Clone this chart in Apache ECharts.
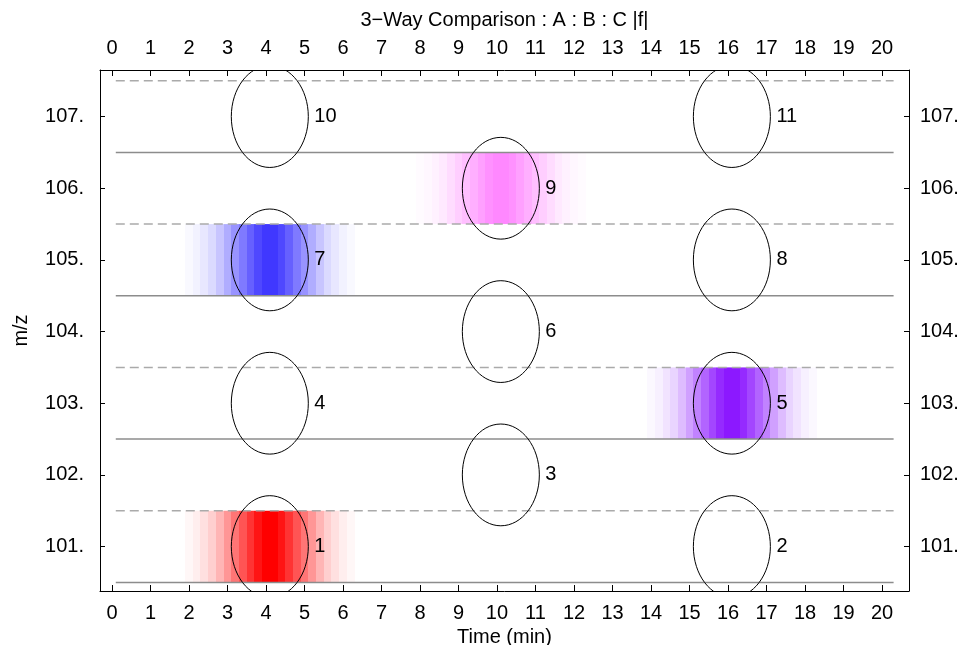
<!DOCTYPE html>
<html>
<head>
<meta charset="utf-8">
<script src="https://cdn.jsdelivr.net/npm/echarts@6/dist/echarts.min.js"></script>
<style>html,body{margin:0;padding:0;background:#fff}#c{width:966px;height:645px}</style>
</head>
<body>
<div id="c"></div>
<script>
// ---------- data ----------
const titleText = '3\u2212Way Comparison : A : B : C |f|';
const xName = 'Time (min)';
const yName = 'm/z';
const timeTicks = [0,1,2,3,4,5,6,7,8,9,10,11,12,13,14,15,16,17,18,19,20];
const mzTicks = [101,102,103,104,105,106,107];
const timeRange = [-0.31, 20.7];
const mzRange = [100.38, 107.65];

const compoundIds   = [1, 2, 3, 4, 5, 6, 7, 8, 9, 10, 11];
const compoundTimes = [4.1, 16.1, 10.1, 4.1, 16.1, 10.1, 4.1, 16.1, 10.1, 4.1, 16.1];
const compoundMz    = [101, 101, 102, 103, 103, 104, 105, 105, 106, 107, 107];
const ellipseHalfTime = 1.0;
const ellipseHalfMz = 0.71;

const solidLineMz  = [100.5, 102.5, 104.5, 106.5];
const dashedLineMz = [101.5, 103.5, 105.5, 107.5];
const lineTimeSpan = [0.1, 20.3];

// intensity bands (compound id, its colour), stripe intensity from centre outward
const bandCompounds = [1, 7, 5, 9];
const bandColors = ['#ff0000', '#4038ff', '#8c18ff', '#ff88ff'];
const bandStripeWidth = 0.2;
const bandProfile = [1.0, 0.92, 0.8, 0.67, 0.54, 0.41, 0.29, 0.19, 0.12, 0.065, 0.03];

// ---------- build series data ----------
const stripeData = [];
bandCompounds.forEach(function (id, b) {
  const i = compoundIds.indexOf(id);
  const t = compoundTimes[i], mz = compoundMz[i];
  bandProfile.forEach(function (a, k) {
    stripeData.push([t + k * bandStripeWidth, t + (k + 1) * bandStripeWidth, mz - 0.5, mz + 0.5, a, b]);
    stripeData.push([t - (k + 1) * bandStripeWidth, t - k * bandStripeWidth, mz - 0.5, mz + 0.5, a, b]);
  });
});
const ellipseData = compoundIds.map(function (id, i) { return [compoundTimes[i], compoundMz[i], id]; });
const lineData = solidLineMz.map(function (m) { return [m, 0]; }).concat(dashedLineMz.map(function (m) { return [m, 1]; }));

const FONT = 'Liberation Sans, Arial, Helvetica, sans-serif';
const chart = echarts.init(document.getElementById('c'), null, {renderer: 'canvas'});

function xAxisCfg(pos, extra) {
  return Object.assign({
    type: 'value', position: pos, min: timeRange[0], max: timeRange[1],
    axisLine: {show: true, onZero: false, lineStyle: {color: '#000', width: 1}},
    axisTick: {show: true, inside: true, length: 6, customValues: timeTicks, lineStyle: {color: '#000'}},
    axisLabel: {show: true, customValues: timeTicks, margin: 12, color: '#000', fontSize: 20, fontFamily: FONT},
    splitLine: {show: false}
  }, extra);
}
function yAxisCfg(pos, extra) {
  return Object.assign({
    type: 'value', position: pos, min: mzRange[0], max: mzRange[1],
    axisLine: {show: true, onZero: false, lineStyle: {color: '#000', width: 1}},
    axisTick: {show: true, inside: true, length: 5, customValues: mzTicks, lineStyle: {color: '#000'}},
    axisLabel: {show: true, customValues: mzTicks, margin: pos === 'left' ? 16 : 11, color: '#000', fontSize: 20, fontFamily: FONT,
      formatter: function (v) { return Math.round(v) + '.'; }},
    splitLine: {show: false}
  }, extra);
}

const option = {
  backgroundColor: '#fff',
  animation: false,
  grid: {left: 100, right: 57, top: 70, bottom: 54, containLabel: false, outerBoundsMode: 'none'},
  xAxis: [
    xAxisCfg('bottom', {name: xName, nameLocation: 'middle', nameGap: 34,
      nameTextStyle: {color: '#000', fontSize: 20, fontFamily: FONT}}),
    xAxisCfg('top', {name: titleText, nameLocation: 'middle', nameGap: 40,
      nameTextStyle: {color: '#000', fontSize: 20, fontFamily: FONT}})
  ],
  yAxis: [
    yAxisCfg('left', {name: yName, nameLocation: 'middle', nameGap: 69, nameRotate: 90,
      nameTextStyle: {color: '#000', fontSize: 20, fontFamily: FONT}}),
    yAxisCfg('right', {})
  ],
  series: [
    {
      type: 'custom', name: 'bands', xAxisIndex: 0, yAxisIndex: 0, clip: true, silent: true,
      data: stripeData,
      renderItem: function (params, api) {
        const p0 = api.coord([api.value(0), api.value(3)]);
        const p1 = api.coord([api.value(1), api.value(2)]);
        const x0 = Math.round(p0[0]), x1 = Math.round(p1[0]);
        return {type: 'rect', shape: {x: x0, y: p0[1], width: x1 - x0, height: p1[1] - p0[1]},
          style: {fill: bandColors[api.value(5)], opacity: api.value(4)}};
      },
      z: 1
    },
    {
      type: 'custom', name: 'lines', xAxisIndex: 0, yAxisIndex: 0, clip: true, silent: true,
      data: lineData,
      renderItem: function (params, api) {
        const a = api.coord([lineTimeSpan[0], api.value(0)]);
        const b = api.coord([lineTimeSpan[1], api.value(0)]);
        const dashed = api.value(1) === 1;
        return {type: 'line', shape: {x1: a[0], y1: a[1], x2: b[0], y2: b[1]},
          style: {stroke: dashed ? '#aaaaaa' : '#8c8c8c', lineWidth: 1.5, lineDash: dashed ? [9, 5] : null}};
      },
      z: 2
    },
    {
      type: 'custom', name: 'ellipses', xAxisIndex: 0, yAxisIndex: 0, clip: true, silent: true,
      data: ellipseData,
      renderItem: function (params, api) {
        const c = api.coord([api.value(0), api.value(1)]);
        const r = api.coord([api.value(0) + ellipseHalfTime, api.value(1) + ellipseHalfMz]);
        const rx = r[0] - c[0], ry = c[1] - r[1];
        return {type: 'group', children: [
          {type: 'ellipse', shape: {cx: c[0], cy: c[1], rx: rx, ry: ry},
            style: {fill: null, stroke: '#000', lineWidth: 1}},
          {type: 'text', x: c[0] + rx + 6, y: c[1],
            style: {text: String(api.value(2)), fill: '#000', font: '20px ' + FONT, verticalAlign: 'middle', align: 'left'}}
        ]};
      },
      z: 3
    }
  ]
};
chart.setOption(option);
</script>
</body>
</html>
